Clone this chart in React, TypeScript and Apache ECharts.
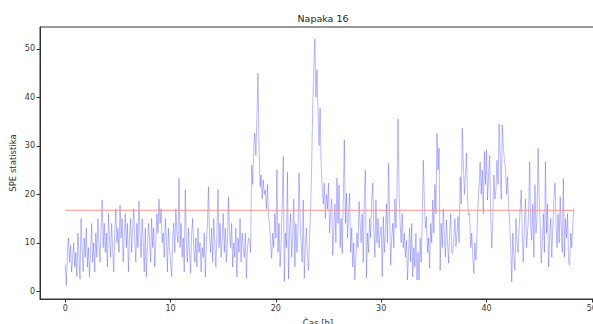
import React, { useEffect, useRef } from "react";
import * as echarts from "echarts";

const TITLE = "Napaka 16";
const X_LABEL = "Čas [h]";
const Y_LABEL = "SPE statistika";
const STEP_H = 0.1;
const THRESHOLD = 16.7;
const X_TICKS = [0, 10, 20, 30, 40, 50];
const Y_TICKS = [0, 10, 20, 30, 40, 50];

const SPE: number[] = [
  5.5, 1.2, 8, 11, 6, 9.5, 4, 7, 10, 5,
  8, 3, 12, 7, 2.5, 15, 9, 4, 11, 7,
  13, 5, 9, 3, 8, 14, 6, 10, 4, 12,
  7, 15, 10, 6, 13, 18.8, 9, 14, 8, 12,
  5, 16, 11, 7, 14, 9, 4, 12, 17, 10,
  13, 8, 17.8, 11, 15, 6, 12, 16, 9, 14,
  4, 11, 15, 8, 13, 17, 10, 6, 14, 9,
  18.6, 12, 7, 15, 10, 4, 13, 3, 9, 14,
  11, 6, 15, 9, 13, 5, 10, 16, 12, 19,
  14, 17, 10, 12, 7, 15, 11, 4, 13, 9,
  6, 3, 11, 14, 8, 17, 12, 10, 23.3, 9,
  14, 7, 11, 4, 20.9, 10, 6, 13, 8, 3.7,
  12, 15, 9, 6, 11, 5, 13, 8, 10, 4,
  9, 7, 12, 3, 10, 14, 21.5, 11, 8, 13,
  6, 15, 10, 5, 12, 21, 9, 14, 7, 11,
  16, 8, 13, 6, 10, 19.5, 12, 9, 14, 5,
  10, 7, 13, 3, 11, 8, 15, 6, 12, 9,
  7, 12, 2.7, 9, 11, 10.5, 8, 26, 22, 30,
  32.6, 28, 36, 45, 30, 21.5, 24, 19, 23, 20,
  20.9, 17, 22, 15, 14, 10, 6.8, 12, 9, 16,
  11, 25, 8, 14, 5, 10, 18, 27.8, 2, 12,
  9, 24.5, 2.5, 13, 16, 7, 11, 19, 5, 14,
  8, 12, 24.4, 15, 10, 6, 18.8, 2.7, 9, 13,
  7, 4.3, 11, 17, 26, 38, 46, 52, 40, 45.7,
  36.8, 30, 37.8, 25.7, 21.5, 18, 22.3, 15, 20, 17,
  22.3, 12, 16, 19, 7.4, 13, 18, 10, 23.3, 14,
  21.9, 9, 15, 7.8, 19, 31.2, 14, 20.2, 11, 16,
  20.2, 8, 13, 5, 10, 2.3, 7, 12, 9, 18.5,
  14, 10, 16, 6, 20, 25, 2.7, 12, 8, 15,
  11, 19, 22.3, 13, 7, 18.8, 10, 15, 9, 12,
  13.3, 3, 15.4, 8, 12, 18, 10, 26.4, 16, 5.4,
  11, 14, 9, 19, 13, 20, 35.5, 20.2, 14, 10,
  16, 9, 12, 7, 10.5, 2.3, 8, 13, 6, 14,
  3, 9, 5, 12, 2.3, 8, 2.3, 11, 6, 15,
  27, 19, 13, 15.4, 8, 11, 4.7, 14, 10, 18.8,
  12, 22, 16, 32.6, 25, 29.5, 4.3, 14, 9, 17,
  11, 7, 14.7, 10, 5.8, 12, 16, 8, 7.8, 11,
  15, 9.2, 12, 15.4, 10, 23.6, 18, 33.6, 26.4, 20,
  24, 28.5, 19, 15.7, 16, 9, 12, 7, 3.7, 10,
  6.4, 12, 18, 22, 26.7, 20, 25, 16, 28.8, 22,
  29.1, 18.8, 24, 28, 16, 8.9, 15, 24, 19, 21,
  27, 22, 34.5, 28, 19, 34.3, 30, 27, 25.7, 20,
  23.6, 18, 14, 9, 1.9, 12, 7, 4.3, 15, 10,
  8, 13, 17, 20.9, 11, 6, 14, 19, 9, 12,
  16, 26.7, 13, 10.5, 18, 7, 22, 12, 15, 29.5,
  20, 14, 5.8, 10, 16, 8, 26.7, 12, 18, 5,
  11, 15, 7, 13, 19, 22.3, 14, 9, 16, 10,
  19.5, 13, 8, 23.3, 7, 15, 11, 16, 6, 5.4,
  12, 9, 14, 17,
];

export default function App() {
  const ref = useRef<HTMLDivElement>(null);
  useEffect(() => {
    document.body.style.margin = "0";
    if (!ref.current) return;
    const chart = echarts.init(ref.current, null, { renderer: "svg" });
    const pts = SPE.map((v, i) => [+(i * STEP_H).toFixed(2), v]);
    const tEnd = (SPE.length - 1) * STEP_H;
    const font = "DejaVu Sans";
    chart.setOption({
      animation: false,
      backgroundColor: "#ffffff",
      title: {
        text: TITLE,
        left: 318,
        top: 8,
        textAlign: "center",
        textStyle: { fontFamily: font, fontSize: 9.5, fontWeight: "normal", color: "#222" },
      },
      graphic: [
        {
          type: "text",
          x: 13,
          y: 163,
          rotation: Math.PI / 2,
          style: {
            text: Y_LABEL,
            fontFamily: font,
            fontSize: 8.5,
            fill: "#333",
            align: "center",
            verticalAlign: "middle",
          },
        },
      ],
      grid: {
        left: 40,
        top: 27,
        width: 556,
        height: 272,
        show: true,
        borderColor: "#333",
        borderWidth: 1,
        backgroundColor: "transparent",
        containLabel: false,
        outerBoundsMode: "none",
      },
      xAxis: {
        type: "value",
        min: -2.4,
        max: 50.4,
        name: X_LABEL,
        nameLocation: "middle",
        nameGap: 19,
        nameTextStyle: { fontFamily: font, fontSize: 8.5, color: "#333" },
        axisLine: { show: true, onZero: false, lineStyle: { color: "#333", width: 1 } },
        axisTick: { show: true, inside: false, length: 3.5, lineStyle: { color: "#333" }, customValues: X_TICKS },
        axisLabel: { fontFamily: font, fontSize: 8, color: "#333", margin: 5, customValues: X_TICKS },
        splitLine: { show: false },
      },
      yAxis: {
        type: "value",
        min: -1.6,
        max: 54.5,
        axisLine: { show: true, onZero: false, lineStyle: { color: "#333", width: 1 } },
        axisTick: { show: true, inside: false, length: 3.5, lineStyle: { color: "#333" }, customValues: Y_TICKS },
        axisLabel: { fontFamily: font, fontSize: 8, color: "#333", margin: 5, customValues: Y_TICKS },
        splitLine: { show: false },
      },
      series: [
        {
          type: "line",
          data: pts,
          showSymbol: false,
          symbol: "none",
          color: "#5555ff",
          lineStyle: { color: "#3a3aff", width: 0.6, opacity: 0.6 },
          silent: true,
        },
        {
          type: "line",
          data: [
            [0, THRESHOLD],
            [tEnd, THRESHOLD],
          ],
          showSymbol: false,
          symbol: "none",
          color: "#ff9090",
          lineStyle: { color: "#ff9090", width: 1, opacity: 1 },
          silent: true,
        },
      ],
    });
    return () => chart.dispose();
  }, []);
  return <div ref={ref} style={{ width: 593, height: 324 }} />;
}
